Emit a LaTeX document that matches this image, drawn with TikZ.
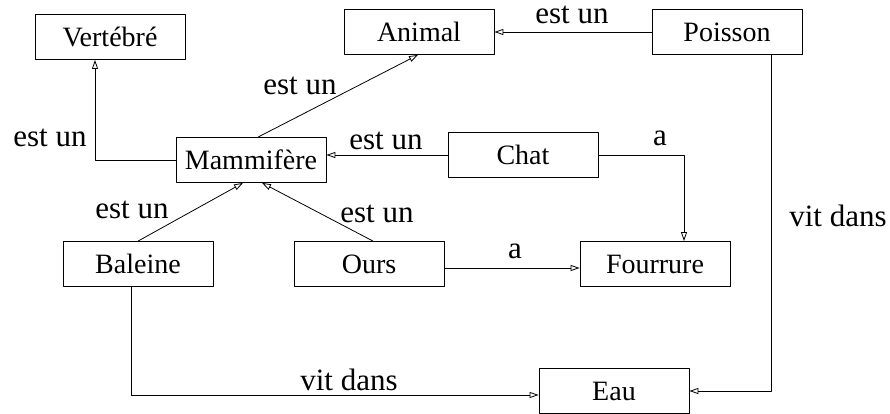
\documentclass[tikz,border=0pt]{standalone}
\usepackage{fontspec}
\setmainfont{Liberation Serif}
\usetikzlibrary{arrows.meta}

\begin{document}
\begin{tikzpicture}[
  x=1pt, y=1pt,
  line join=round, line cap=round,
  box/.style={draw, line width=0.8pt, minimum width=150pt, minimum height=45pt,
    inner sep=0pt, font=\fontsize{28}{30}\selectfont},
  lbl/.style={inner sep=0pt, anchor=base, font=\fontsize{31}{33}\selectfont},
  link/.style={line width=0.8pt, -{Triangle[open, length=9pt, width=6pt]}},
]
\useasboundingbox (0,0) rectangle (890,414);

% the boxes
\foreach \n/\x/\y/\txt in {vert/110/377/Vertébré, anim/419/382/Animal,
    pois/727/382/Poisson, mam/251/254/Mammifère, chat/523/259/Chat,
    bal/138/150/Baleine, ours/369/150/Ours, four/655/150/Fourrure,
    eau/614/23/Eau} {
  \node[box] (\n) at (\x,\y) {\txt};
}

% the links
\draw[link] (mam.west) -| ([xshift=-15pt]vert.south);
\draw[link] ([xshift=7pt]mam.north) -- ([xshift=-1pt]anim.south);
\draw[link] (chat.west) -- (chat.west -| mam.east);
\draw[link] (pois.west) -- (anim.east);
\draw[link] (chat.east) -| ([xshift=29pt]four.north);
\draw[link] (bal.north) -- ([xshift=-8pt]mam.south);
\draw[link] ([xshift=4pt]ours.north) -- ([xshift=11pt]mam.south);
\draw[link] ([yshift=-4pt]ours.east) -- ([yshift=-4pt]four.west);
\draw[link] ([xshift=-7pt]bal.south) |- ([yshift=-4pt]eau.west);
\draw[link] ([xshift=44pt]pois.south) |- (eau.east);

% the labels on the links
\foreach \n/\x/\y/\txt in {l-vert/50/267/est un, l-anim/300/319/est un,
    l-chat/386/264/est un, l-pois/572/390/est un, l-chatfour/660/268/a,
    l-bal/132/195/est un, l-ours/377/191/est un, l-oursfour/515/155/a,
    l-baleau/349/23/vit dans, l-poiseau/838/187/vit dans} {
  \node[lbl] (\n) at (\x,\y) {\txt};
}

\end{tikzpicture}
\end{document}
